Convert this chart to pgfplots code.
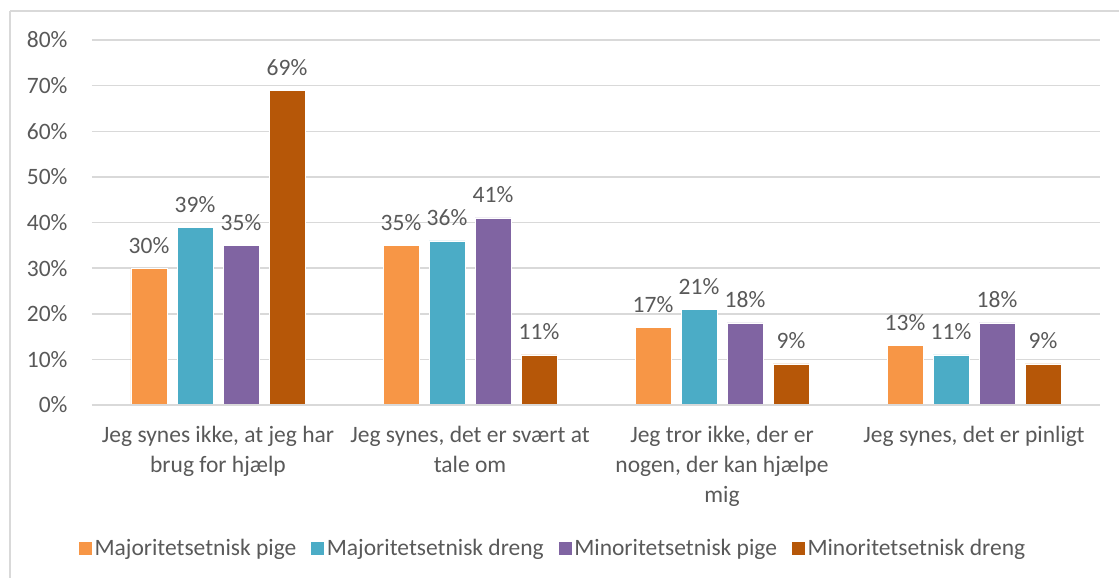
\documentclass[border=0pt]{standalone}
\usepackage{fontspec}
\setmainfont{Carlito}
\usepackage{pgfplots}
\pgfplotsset{compat=1.18}

\definecolor{majpige}{HTML}{F79646}
\definecolor{majdreng}{HTML}{4BACC6}
\definecolor{minpige}{HTML}{8064A2}
\definecolor{mindreng}{HTML}{B65708}
\definecolor{txt}{HTML}{595959}
\definecolor{gridc}{HTML}{D9D9D9}

\begin{document}
\begin{tikzpicture}[x=1pt,y=1pt]
\useasboundingbox (0,0) rectangle (1119,-578);
\begin{scope}
\clip (0,0) rectangle (1119,-578);
\draw[gridc, line width=1.5pt] (10,-11) -- (1130,-11);
\draw[gridc, line width=1.5pt] (10,-11) -- (10,-590);
\end{scope}
\begin{axis}[
    at={(92pt,-405pt)}, anchor=south west,
    scale only axis,
    width=1008pt, height=365pt,
    ybar=10pt, bar width=36pt,
    xmin=-0.5, xmax=3.5,
    ymin=0, ymax=80,
    xtick={0,1,2,3},
    xticklabels={
        {Jeg synes ikke, at jeg har\\brug for hjælp},
        {Jeg synes, det er svært at\\tale om},
        {Jeg tror ikke, der er\\nogen, der kan hjælpe\\mig},
        {Jeg synes, det er pinligt}},
    xticklabel style={align=center, font=\fontsize{23.5}{30}\selectfont, text=txt, yshift=-18pt},
    ytick={0,10,...,80},
    yticklabel={\pgfmathprintnumber{\tick}\%},
    yticklabel style={font=\fontsize{23.5}{28}\selectfont, text=txt, xshift=-21pt},
    /pgf/number format/assume math mode=true,
    major tick length=0pt,
    axis line style={draw=none},
    ymajorgrids,
    grid style={gridc, line width=1.5pt},
    nodes near coords={\pgfmathprintnumber{\pgfplotspointmeta}\%},
    every node near coord/.append style={font=\fontsize{23.5}{28}\selectfont, text=txt, anchor=base, inner sep=0pt, yshift=15pt},
    legend columns=4,
    legend style={at={(0.457,-0.392)}, anchor=center, draw=none, fill=none,
        font=\fontsize{23.5}{28}\selectfont, text=txt,
        /tikz/every even column/.append style={column sep=12pt}},
    legend image code/.code={\fill[#1] (0pt,-7pt) rectangle (14pt,7pt);},
    clip=false,
]
\addplot[fill=majpige, draw=white, line width=0.5pt] coordinates {(0,30) (1,35) (2,17) (3,13)};
\addlegendentry{Majoritetsetnisk pige}
\addplot[fill=majdreng, draw=white, line width=0.5pt] coordinates {(0,39) (1,36) (2,21) (3,11)};
\addlegendentry{Majoritetsetnisk dreng}
\addplot[fill=minpige, draw=white, line width=0.5pt] coordinates {(0,35) (1,41) (2,18) (3,18)};
\addlegendentry{Minoritetsetnisk pige}
\addplot[fill=mindreng, draw=white, line width=0.5pt] coordinates {(0,69) (1,11) (2,9) (3,9)};
\addlegendentry{Minoritetsetnisk dreng}
\draw[gridc, line width=1.5pt] (rel axis cs:0,0) -- (rel axis cs:1,0);
\end{axis}
\end{tikzpicture}
\end{document}
